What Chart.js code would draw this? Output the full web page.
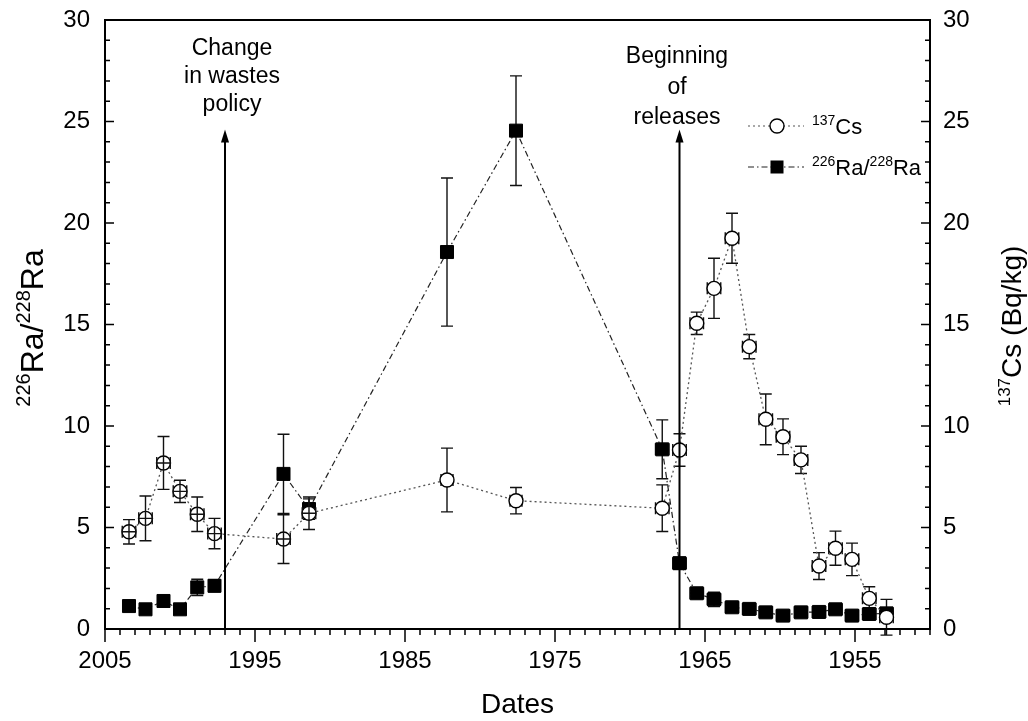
<!DOCTYPE html>
<html>
<head>
<meta charset="utf-8">
<script src="https://cdn.jsdelivr.net/npm/chart.js@4.4.0/dist/chart.umd.min.js"></script>
<style>
  html, body { margin: 0; padding: 0; background: #fff; }
  #wrap { width: 1028px; height: 721px; }
</style>
</head>
<body>
<div id="wrap"><canvas id="chart" width="1028" height="721"></canvas></div>
<script>
// Ra ratio and 137Cs profile vs. dates

const FONT = '"Liberation Sans", Arial, sans-serif';

// sampling dates, shared by both series
const dates = [2003.4, 2002.3, 2001.1, 2000.0, 1998.85, 1997.7, 1993.1, 1991.4, 1982.2, 1977.6,
  1967.85, 1966.7, 1965.55, 1964.4, 1963.2, 1962.05, 1960.95, 1959.8, 1958.6, 1957.4,
  1956.3, 1955.2, 1954.05, 1952.9];

// 226Ra/228Ra ratio
const raRatio = [1.13, 0.97, 1.38, 0.97, 2.05, 2.13, 7.64, 5.91, 18.57, 24.55,
  8.85, 3.24, 1.76, 1.46, 1.07, 0.99, 0.82, 0.66, 0.82, 0.84,
  0.97, 0.66, 0.74, 0.77];
const raErr = [0.2, 0.2, 0.25, 0.15, 0.4, 0.3, 1.95, 0.5, 3.65, 2.7,
  1.45, 0.3, 0.15, 0.35, 0.15, 0.12, 0.12, 0.12, 0.12, 0.12,
  0.12, 0.12, 0.12, 0.12];
const raDateErr = [0, 0, 0, 0, 0, 0, 0, 0, 0, 0,
  0.45, 0.45, 0.45, 0.45, 0.45, 0.45, 0.45, 0.45, 0.45, 0.45,
  0.45, 0.45, 0.45, 0.45];

// 137Cs activity (Bq/kg)
const cs137 = [4.79, 5.45, 8.18, 6.78, 5.65, 4.7, 4.43, 5.7, 7.34, 6.32,
  5.95, 8.82, 15.06, 16.78, 19.25, 13.91, 10.33, 9.47, 8.33, 3.1,
  3.98, 3.43, 1.51, 0.58];
const csErr = [0.6, 1.1, 1.3, 0.55, 0.85, 0.75, 1.2, 0.8, 1.57, 0.65,
  1.15, 0.8, 0.55, 1.48, 1.23, 0.6, 1.25, 0.88, 0.67, 0.66,
  0.84, 0.8, 0.57, 0.88];
const csDateErr = [0.45, 0.45, 0.45, 0.45, 0.45, 0.45, 0.45, 0.45, 0.4, 0.4,
  0.45, 0.45, 0.45, 0.45, 0.45, 0.45, 0.45, 0.45, 0.45, 0.45,
  0.45, 0.45, 0.45, 0.45];

// tick labels
const xTickLabels = [2005, 1995, 1985, 1975, 1965, 1955];
const yTickLabels = [0, 5, 10, 15, 20, 25, 30];

// events marked with arrows
const eventDates = [1997.0, 1966.7];
const eventTop = 24.6;
const eventText = [['Change', 'in wastes', 'policy'], ['Beginning', 'of', 'releases']];

function toPoints(ys) {
  return dates.map((d, i) => ({ x: d, y: ys[i] }));
}

// text with superscripts: parts = [[text, isSup], ...]
function richWidth(ctx, parts, size) {
  let w = 0;
  parts.forEach(([t, sup]) => {
    ctx.font = (sup ? Math.round(size * 0.62) : size) + 'px ' + FONT;
    w += ctx.measureText(t).width;
  });
  return w;
}

function drawRich(ctx, parts, x, y, size, align) {
  let cx = x;
  if (align === 'center') cx = x - richWidth(ctx, parts, size) / 2;
  ctx.textAlign = 'left';
  ctx.textBaseline = 'alphabetic';
  parts.forEach(([t, sup]) => {
    ctx.font = (sup ? Math.round(size * 0.62) : size) + 'px ' + FONT;
    ctx.fillText(t, cx, sup ? y - size * 0.4 : y);
    cx += ctx.measureText(t).width;
  });
}

function errorBars(chart, idx, yErr, xErr, keep) {
  const ctx = chart.ctx;
  const meta = chart.getDatasetMeta(idx);
  const xs = chart.scales.x;
  const ys = chart.scales[meta.yAxisID];
  const cap = 6;
  ctx.save();
  ctx.strokeStyle = '#111';
  ctx.lineWidth = 1.4;
  dates.forEach((d, i) => {
    if (!keep(d)) return;
    const val = chart.data.datasets[idx].data[i].y;
    const px = xs.getPixelForValue(d);
    const py = ys.getPixelForValue(val);
    ctx.beginPath();
    if (yErr[i] > 0) {
      const y1 = ys.getPixelForValue(val + yErr[i]);
      const y2 = ys.getPixelForValue(val - yErr[i]);
      ctx.moveTo(px, y1); ctx.lineTo(px, y2);
      ctx.moveTo(px - cap, y1); ctx.lineTo(px + cap, y1);
      ctx.moveTo(px - cap, y2); ctx.lineTo(px + cap, y2);
    }
    if (xErr[i] > 0) {
      const x1 = xs.getPixelForValue(d + xErr[i]);
      const x2 = xs.getPixelForValue(d - xErr[i]);
      ctx.moveTo(x1, py); ctx.lineTo(x2, py);
      ctx.moveTo(x1, py - cap); ctx.lineTo(x1, py + cap);
      ctx.moveTo(x2, py - cap); ctx.lineTo(x2, py + cap);
    }
    ctx.stroke();
  });
  ctx.restore();
}

const errorBarPlugin = {
  id: 'errorBars',
  beforeDatasetsDraw(chart) {
    errorBars(chart, 1, raErr, raDateErr, () => true);
    errorBars(chart, 0, csErr, csDateErr, d => d < 1985);
  },
  afterDatasetsDraw(chart) {
    // the recent Cs points show their bars across the open circles
    errorBars(chart, 0, csErr, csDateErr, d => d >= 1985);
  }
};

const framePlugin = {
  id: 'frame',
  afterDraw(chart) {
    const ctx = chart.ctx;
    const a = chart.chartArea;
    const xs = chart.scales.x, yl = chart.scales.y, yr = chart.scales.y2;
    ctx.save();
    ctx.strokeStyle = '#000';

    // tick marks
    ctx.lineWidth = 1.5;
    ctx.beginPath();
    xs.ticks.forEach(t => {
      const px = xs.getPixelForValue(t.value);
      const len = xTickLabels.includes(t.value) ? 13 : 6;
      ctx.moveTo(px, a.bottom); ctx.lineTo(px, a.bottom + len);
    });
    yl.ticks.forEach(t => {
      const py = yl.getPixelForValue(t.value);
      const len = yTickLabels.includes(t.value) ? 9 : 5;
      ctx.moveTo(a.left, py); ctx.lineTo(a.left + len, py);
    });
    yr.ticks.forEach(t => {
      const py = yr.getPixelForValue(t.value);
      const len = yTickLabels.includes(t.value) ? 9 : 5;
      ctx.moveTo(a.right, py); ctx.lineTo(a.right - len, py);
    });
    ctx.stroke();

    // axis frame
    ctx.lineWidth = 2;
    ctx.strokeRect(a.left, a.top, a.right - a.left, a.bottom - a.top);
    ctx.lineWidth = 1;
    ctx.beginPath();
    ctx.moveTo(a.left, a.top - 0.5); ctx.lineTo(a.right, a.top - 0.5);
    ctx.stroke();

    // event arrows and notes
    ctx.fillStyle = '#000';
    eventDates.forEach((d, k) => {
      const px = xs.getPixelForValue(d);
      const tip = yl.getPixelForValue(eventTop);
      ctx.lineWidth = 2;
      ctx.beginPath();
      ctx.moveTo(px, a.bottom); ctx.lineTo(px, tip + 10);
      ctx.stroke();
      ctx.beginPath();
      ctx.moveTo(px, tip); ctx.lineTo(px - 4, tip + 13); ctx.lineTo(px + 4, tip + 13);
      ctx.closePath(); ctx.fill();
    });
    ctx.font = '23px ' + FONT;
    ctx.textAlign = 'center';
    ctx.textBaseline = 'alphabetic';
    [[232, [55, 83, 111]], [677, [63, 94, 124]]].forEach(([cx, ys], k) => {
      eventText[k].forEach((line, j) => ctx.fillText(line, cx, ys[j]));
    });

    // axis titles
    ctx.font = '28px ' + FONT;
    ctx.textAlign = 'center';
    ctx.fillText('Dates', (a.left + a.right) / 2, 713);

    ctx.save();
    ctx.translate(43, 328);
    ctx.rotate(-Math.PI / 2);
    drawRich(ctx, [['226', true], ['Ra/', false], ['228', true], ['Ra', false]], 0, 0, 32, 'center');
    ctx.restore();

    ctx.save();
    ctx.translate(1021, 326);
    ctx.rotate(-Math.PI / 2);
    drawRich(ctx, [['137', true], ['Cs (Bq/kg)', false]], 0, 0, 28, 'center');
    ctx.restore();

    // legend
    const rows = [
      { y: 126, dash: [2, 3], color: '#555', parts: [['137', true], ['Cs', false]] },
      { y: 167, dash: [6, 3, 1.5, 3], color: '#222', parts: [['226', true], ['Ra/', false], ['228', true], ['Ra', false]] }
    ];
    rows.forEach((r, i) => {
      ctx.save();
      ctx.strokeStyle = r.color;
      ctx.lineWidth = 1.2;
      ctx.setLineDash(r.dash);
      ctx.beginPath();
      ctx.moveTo(748, r.y); ctx.lineTo(804, r.y);
      ctx.stroke();
      ctx.restore();
      ctx.lineWidth = 1.4;
      if (i === 0) {
        ctx.beginPath();
        ctx.arc(777, r.y, 7, 0, Math.PI * 2);
        ctx.fillStyle = '#fff'; ctx.fill();
        ctx.stroke();
      } else {
        ctx.fillStyle = '#000';
        ctx.fillRect(777 - 6.5, r.y - 6.5, 13, 13);
      }
      ctx.fillStyle = '#000';
      drawRich(ctx, r.parts, 812, r.y + 8, 22, 'left');
    });
    ctx.restore();
  }
};

// fixed axis sizes so the plot frame sits where the original has it
function fixSize(prop, size) {
  return s => {
    s[prop] = size;
    s.paddingTop = 0; s.paddingBottom = 0;
    s.paddingLeft = 0; s.paddingRight = 0;
  };
}

const ctx = document.getElementById('chart').getContext('2d');
new Chart(ctx, {
  type: 'line',
  data: {
    datasets: [
      {
        label: '137Cs',
        data: toPoints(cs137),
        yAxisID: 'y2',
        borderColor: '#555',
        borderWidth: 1.3,
        borderDash: [2, 3],
        pointStyle: 'circle',
        pointRadius: 7,
        pointBackgroundColor: '#fff',
        pointBorderColor: '#000',
        pointBorderWidth: 1.4,
        tension: 0
      },
      {
        label: '226Ra/228Ra',
        data: toPoints(raRatio),
        yAxisID: 'y',
        borderColor: '#222',
        borderWidth: 1.2,
        borderDash: [6, 3, 1.5, 3],
        pointStyle: 'rect',
        pointRadius: 9.2,
        pointBackgroundColor: '#000',
        pointBorderColor: '#000',
        pointBorderWidth: 1,
        tension: 0
      }
    ]
  },
  options: {
    responsive: false,
    animation: false,
    devicePixelRatio: 1,
    layout: { padding: { top: 20, left: 0, right: 0, bottom: 0 } },
    plugins: { legend: { display: false }, tooltip: { enabled: false } },
    scales: {
      x: {
        type: 'linear',
        reverse: true,
        min: 1950,
        max: 2005,
        grid: { display: false, drawTicks: false },
        border: { display: false },
        ticks: {
          stepSize: 1,
          autoSkip: false,
          maxRotation: 0,
          padding: 18,
          color: '#000',
          font: { family: FONT, size: 24 },
          callback: v => xTickLabels.includes(v) ? String(v) : ''
        },
        afterFit: fixSize('height', 92)
      },
      y: {
        position: 'left',
        min: 0,
        max: 30,
        grid: { display: false, drawTicks: false },
        border: { display: false },
        ticks: {
          stepSize: 1,
          autoSkip: false,
          padding: 15,
          color: '#000',
          font: { family: FONT, size: 24 },
          callback: v => yTickLabels.includes(v) ? String(v) : ''
        },
        afterFit: fixSize('width', 105)
      },
      y2: {
        position: 'right',
        min: 0,
        max: 30,
        grid: { display: false, drawTicks: false },
        border: { display: false },
        ticks: {
          stepSize: 1,
          autoSkip: false,
          padding: 13,
          color: '#000',
          font: { family: FONT, size: 24 },
          callback: v => yTickLabels.includes(v) ? String(v) : ''
        },
        afterFit: fixSize('width', 98)
      }
    }
  },
  plugins: [errorBarPlugin, framePlugin]
});
</script>
</body>
</html>
